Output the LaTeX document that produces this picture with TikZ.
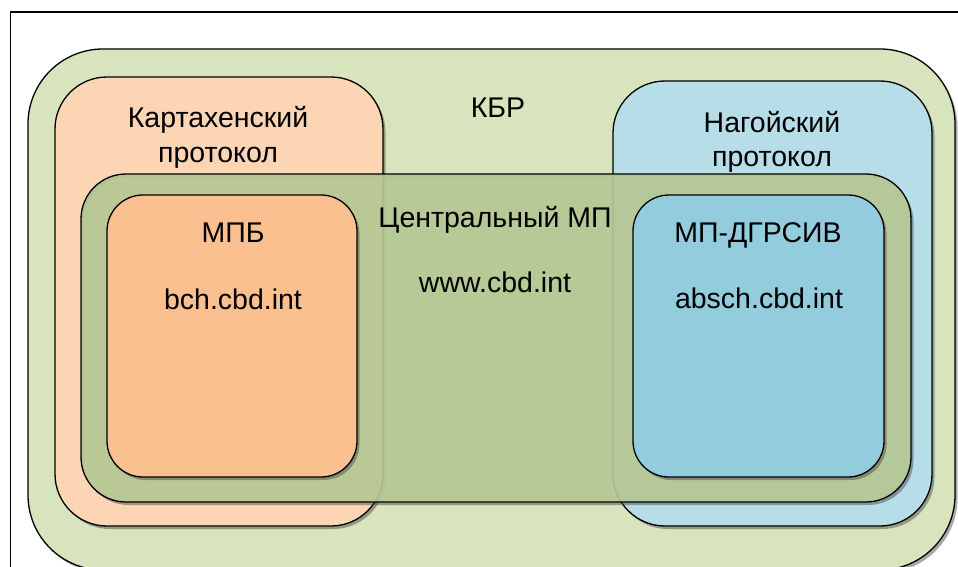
\documentclass[tikz,border=0pt]{standalone}
\usepackage{fontspec}
\setmainfont{Liberation Sans}
\usetikzlibrary{shadows}
\definecolor{kbrcol}{HTML}{D7E4BD}
\definecolor{cartcol}{HTML}{FCD5B5}
\definecolor{nagcol}{HTML}{B7DEE8}
\definecolor{cencol}{HTML}{B5C794}
\definecolor{mpbcol}{HTML}{FAC090}
\definecolor{abscol}{HTML}{93CDDD}
\tikzset{
  box/.style={draw=black, line width=1.3pt, inner sep=0pt, outer sep=0pt,
    drop shadow={shadow xshift=2.5pt, shadow yshift=-3pt, opacity=0.45, fill=black!75}},
  plainbox/.style={draw=black, line width=1.3pt, inner sep=0pt, outer sep=0pt},
  lbl/.style={anchor=base, inner sep=0pt, font=\fontsize{28.5}{34}\selectfont}
}
\begin{document}
\begin{tikzpicture}[x=1pt,y=-1pt]
\useasboundingbox (0,0) rectangle (958,567);
\clip (0,0) rectangle (958,567);
\fill[white] (0,0) rectangle (958,567);
\draw[line width=1.2pt] (10.5,570) -- (10.5,12) -- (962,12);
% outer CBD
\node[box, fill=kbrcol, minimum width=927pt, minimum height=521pt, rounded corners=75pt] (kbr) at (491.5,309.5) {};
% protocols
\node[box, fill=cartcol, minimum width=328pt, minimum height=449pt, rounded corners=52pt] (cart) at (219,301.5) {};
\node[box, fill=nagcol, minimum width=319pt, minimum height=445pt, rounded corners=52pt] (nag) at (772.5,303.5) {};
% central CHM: shadow only outside the box
\fill[black!75, opacity=0.45, even odd rule, rounded corners=45pt]
  (83.5,177) rectangle (913.5,505)
  (81,174) rectangle (911,502);
\node[plainbox, fill=cencol, fill opacity=0.92, minimum width=830pt, minimum height=328pt, rounded corners=45pt] (cen) at (496,338) {};
% inner
\node[box, fill=mpbcol, minimum width=250pt, minimum height=282pt, rounded corners=36pt] (mpb) at (232,336) {};
\node[box, fill=abscol, minimum width=251pt, minimum height=282pt, rounded corners=36pt] (abs) at (758.5,336) {};
% texts
\node[lbl] (tkbr) at (498,118) {КБР};
\node[lbl] (tcart1) at (218,128) {Картахенский};
\node[lbl] (tcart2) at (218,162) {протокол};
\node[lbl] (tnag1) at (772,132) {Нагойский};
\node[lbl] (tnag2) at (772,166) {протокол};
\node[lbl] (tcen1) at (495,227) {Центральный МП};
\node[lbl] (tcen2) at (495,292) {www.cbd.int};
\node[lbl] (tmpb1) at (233,242) {МПБ};
\node[lbl] (tmpb2) at (233,309) {bch.cbd.int};
\node[lbl] (tabs1) at (758,242) {МП-ДГРСИВ};
\node[lbl] (tabs2) at (759,308) {absch.cbd.int};
\end{tikzpicture}
\end{document}
